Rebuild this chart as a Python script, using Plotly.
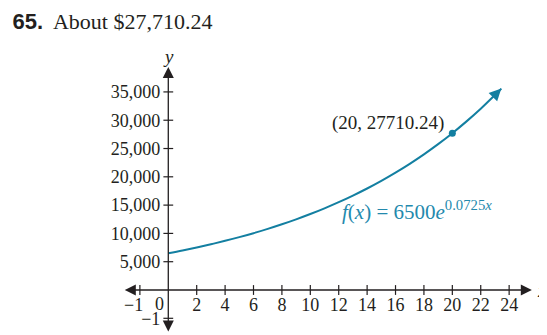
import plotly.graph_objects as go

# ---- data ----
curve_x = [0, 1, 2, 3, 4, 5, 6, 7, 8, 9, 10, 11, 12, 13, 14, 15, 16, 17, 18, 19, 20, 21, 22, 23, 23.45]
curve_y = [6500, 6989, 7514, 8079, 8687, 9340, 10042, 10797, 11609, 12482, 13421, 14430,
           15515, 16682, 17936, 19285, 20735, 22294, 23970, 25772, 27710, 29794, 32034, 34442, 35584]
point_x = [20]
point_y = [27710.24]
point_label = "(20, 27710.24)"
func_label = "<i>f</i>(<i>x</i>) = 6500<i>e</i><sup>0.0725<i>x</i></sup>"
title_num = "65."
title_text = "About $27,710.24"

x_tickvals = [2, 4, 6, 8, 10, 12, 14, 16, 18, 20, 22, 24]
x_ticktext = ["2", "4", "6", "8", "10", "12", "14", "16", "18", "20", "22", "24"]
x_neg_tick = -2          # drawn one step left of 0, labelled "−1"
x_neg_text = "−1"
y_tickvals = [-5000, 5000, 10000, 15000, 20000, 25000, 30000, 35000]
y_ticktext = ["−1", "5,000", "10,000", "15,000", "20,000", "25,000", "30,000", "35,000"]

x_range = [-3.33, 25.68]
y_range = [-7950, 40640]
x_axis_ends = [-3.17, 25.6]
y_axis_ends = [-7600, 39400]

INK = "#231f20"
TEAL = "#137fa1"
TEAL_TXT = "#2389ad"
SERIF = "Liberation Serif"

# the page body adds an 8px margin, so the figure is 8px smaller than the window
W, H = 539, 327

fig = go.Figure()

# curve
fig.add_trace(go.Scatter(x=curve_x, y=curve_y, mode="lines",
                         line=dict(color=TEAL, width=2, shape="spline"),
                         hoverinfo="skip"))
# highlighted point
fig.add_trace(go.Scatter(x=point_x, y=point_y, mode="markers",
                         marker=dict(color=TEAL, size=7), hoverinfo="skip"))

# crossing tick marks on the axes
xt_all = [x_neg_tick] + x_tickvals
fig.add_trace(go.Scatter(x=xt_all, y=[0] * len(xt_all), mode="markers",
                         marker=dict(symbol="line-ns", size=7,
                                     line=dict(color=INK, width=1.2)),
                         hoverinfo="skip", cliponaxis=False))
fig.add_trace(go.Scatter(x=[0] * len(y_tickvals), y=y_tickvals, mode="markers",
                         marker=dict(symbol="line-ew", size=7,
                                     line=dict(color=INK, width=1.2)),
                         hoverinfo="skip", cliponaxis=False))

annotations = []
# axes with arrowheads at both ends
for (x0, y0, x1, y1) in [(x_axis_ends[0], 0, x_axis_ends[1], 0),
                         (0, y_axis_ends[0], 0, y_axis_ends[1])]:
    annotations.append(dict(x=x1, y=y1, ax=x0, ay=y0,
                            xref="x", yref="y", axref="x", ayref="y", text="",
                            showarrow=True, arrowhead=2, startarrowhead=2,
                            arrowside="end+start", arrowsize=1.7, startarrowsize=1.7,
                            arrowwidth=1.3, arrowcolor=INK))
# arrowhead at the end of the curve
annotations.append(dict(x=curve_x[-1], y=curve_y[-1], ax=curve_x[-2], ay=curve_y[-2],
                        xref="x", yref="y", axref="x", ayref="y", text="",
                        showarrow=True, arrowhead=2, arrowsize=1.2,
                        arrowwidth=2, arrowcolor=TEAL))
# axis titles
annotations.append(dict(x=x_axis_ends[1], y=0, xref="x", yref="y", text="<i>x</i>",
                        showarrow=False, xanchor="left", yanchor="middle", xshift=3,
                        font=dict(family=SERIF, size=19, color=INK)))
annotations.append(dict(x=0, y=y_axis_ends[1], xref="x", yref="y", text="<i>y</i>",
                        showarrow=False, xanchor="center", yanchor="bottom", yshift=-2,
                        font=dict(family=SERIF, size=19, color=INK)))
# origin and negative x labels
annotations.append(dict(x=0, y=0, xref="x", yref="y", text="0", showarrow=False,
                        xanchor="right", yanchor="top", xshift=-2, yshift=-2,
                        font=dict(family=SERIF, size=18, color=INK)))
annotations.append(dict(x=x_neg_tick, y=0, xref="x", yref="y", text=x_neg_text,
                        showarrow=False, xanchor="right", yanchor="top", xshift=5, yshift=-3,
                        font=dict(family=SERIF, size=18, color=INK)))
# point label
annotations.append(dict(x=point_x[0], y=point_y[0], xref="x", yref="y", text=point_label,
                        showarrow=False, xanchor="right", yanchor="middle",
                        xshift=-6, yshift=10,
                        font=dict(family=SERIF, size=19, color=INK)))
# function label
annotations.append(dict(x=12.09, y=14130, xref="x", yref="y", text=func_label,
                        showarrow=False, xanchor="left", yanchor="middle",
                        font=dict(family=SERIF, size=21, color=TEAL_TXT)))

x_pos = (0 - y_range[0]) / (y_range[1] - y_range[0])
y_pos = (0 - x_range[0]) / (x_range[1] - x_range[0])

fig.update_layout(
    width=W, height=H,
    margin=dict(l=113, r=14, t=52, b=0, autoexpand=False),
    paper_bgcolor="white", plot_bgcolor="white",
    showlegend=False,
    title=dict(text=f"<span style='font-family:Liberation Sans'><b>{title_num}</b></span>\u00a0 {title_text}",
               xref="container", yref="container", x=4.5 / W, y=1 - 13 / H,
               xanchor="left", yanchor="middle",
               font=dict(family=SERIF, size=22, color=INK)),
    xaxis=dict(range=x_range, anchor="free", position=x_pos, automargin=False,
               tickvals=x_tickvals, ticktext=x_ticktext,
               showgrid=False, zeroline=False, showline=False, ticks="",
               ticklabelstandoff=2,
               tickfont=dict(family=SERIF, size=18, color=INK), fixedrange=True),
    yaxis=dict(range=y_range, anchor="free", position=y_pos, automargin=False,
               tickvals=y_tickvals, ticktext=y_ticktext,
               showgrid=False, zeroline=False, showline=False, ticks="",
               ticklabelstandoff=8,
               tickfont=dict(family=SERIF, size=18, color=INK), fixedrange=True),
    annotations=annotations,
)

fig.write_html("out.html")
